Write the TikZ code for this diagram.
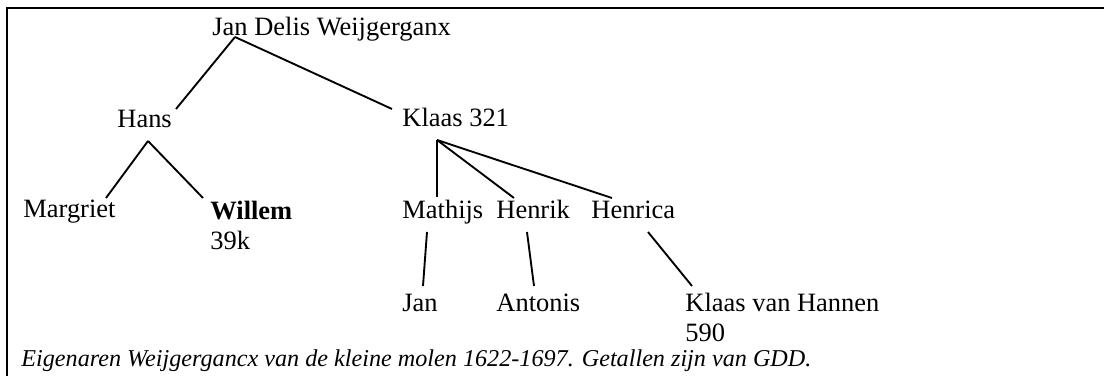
\documentclass[tikz,border=0pt]{standalone}
\usepackage{fontspec}
\setmainfont{Liberation Serif}
\usepackage{tikz}
\usetikzlibrary{calc}

\begin{document}
\begin{tikzpicture}[
  x=0.48pt, y=-0.48pt,
  person/.style = {anchor=base west, inner sep=0pt, font=\fontsize{12.7}{14.6}\selectfont, align=left},
  link/.style = {line width=0.9pt},
  frame/.style = {line width=1.4pt}
]
  \useasboundingbox (0,0) rectangle (1104,376);

  % Frame
  \draw[frame] (1104,8) -- (7,8) -- (7,376);

  % Generations
  \node[person] (root) at (212,36) {Jan Delis Weijgerganx};

  \node[person] (hans)  at (117,128) {Hans};
  \node[person] (klaas) at (402,127) {Klaas 321};

  % two-line names sit on their last line
  \node[person] (margriet) at (23,218)  {Margriet};
  \node[person] (willem)   at (210,250) {\textbf{Willem}\\39k};
  \node[person] (mathijs)  at (402,219) {Mathijs};
  \node[person] (henrik)   at (496,219) {Henrik};
  \node[person] (henrica)  at (591,219) {Henrica};

  \node[person] (jan)     at (402,312) {Jan};
  \node[person] (antonis) at (496,312) {Antonis};
  \node[person] (kvh)     at (685,342) {Klaas van Hannen\\590};

  % Caption
  \node[person, font=\fontsize{11.6}{14}\selectfont\itshape] (caption) at (21,367)
    {Eigenaren Weijgergancx van de kleine molen 1622-1697. Getallen zijn van GDD.};

  % Lines of descent
  \draw[link] ($(root.base west)+(23,1)$) -- ($(hans.base west)+(59,-19)$);
  \draw[link] ($(root.base west)+(23,1)$) -- ($(klaas.base west)+(-10,-18)$);

  \draw[link] ($(hans.base west)+(31,13)$) -- ($(margriet.base west)+(83,-20)$);
  \draw[link] ($(hans.base west)+(31,13)$) -- ($(willem.base west)+(-7,-52)$);

  \draw[link] ($(klaas.base west)+(35,13)$) -- ($(mathijs.base west)+(35,-22)$);
  \draw[link] ($(klaas.base west)+(35,13)$) -- ($(henrik.base west)+(18,-21)$);
  \draw[link] ($(klaas.base west)+(35,13)$) -- ($(henrica.base west)+(21,-21)$);

  \draw[link] ($(mathijs.base west)+(25,13)$) -- ($(jan.base west)+(21,-26)$);
  \draw[link] ($(henrik.base west)+(31,13)$) -- ($(antonis.base west)+(38,-26)$);
  \draw[link] ($(henrica.base west)+(57,13)$) -- ($(kvh.base west)+(7,-56)$);

\end{tikzpicture}
\end{document}
